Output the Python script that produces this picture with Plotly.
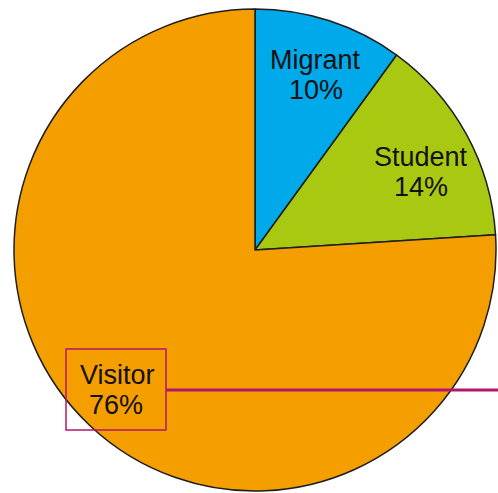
import plotly.graph_objects as go

# Share of arrivals by category
categories = ["Migrant", "Student", "Visitor"]
shares = [10, 14, 76]
colors = ["#00A9E9", "#A9C812", "#F59E00"]

W, H = 498, 493


def px(x):
    return x / W


def py(y):
    return 1 - y / H


fig = go.Figure(
    go.Pie(
        labels=categories,
        values=shares,
        sort=False,
        direction="clockwise",
        rotation=0,
        textinfo="none",
        hoverinfo="skip",
        marker=dict(colors=colors, line=dict(color="#1e1e1e", width=1.5)),
        domain=dict(x=[px(14), px(496)], y=[py(491), py(9)]),
        showlegend=False,
    )
)

# label centres (pixels): name line, percent line
label_pos = {
    "Migrant": ((315, 60), (316, 90)),
    "Student": ((421, 157), (421, 187)),
    "Visitor": ((117, 375), (116, 405)),
}

font = dict(family="Liberation Sans, Arial, sans-serif", size=27, color="#111111")
annotations = []
for name, val in zip(categories, shares):
    (nx, ny), (vx, vy) = label_pos[name]
    annotations.append(dict(x=px(nx), y=py(ny), xref="paper", yref="paper",
                            text=name, showarrow=False, font=font,
                            xanchor="center", yanchor="middle"))
    annotations.append(dict(x=px(vx), y=py(vy), xref="paper", yref="paper",
                            text=f"{val}%", showarrow=False, font=font,
                            xanchor="center", yanchor="middle"))

callout = "#B3176A"
shapes = [
    dict(type="rect", xref="paper", yref="paper",
         x0=px(66), x1=px(166), y0=py(430), y1=py(349),
         line=dict(color=callout, width=1.5), fillcolor="rgba(0,0,0,0)"),
    dict(type="line", xref="paper", yref="paper",
         x0=px(166), x1=px(498), y0=py(390), y1=py(390),
         line=dict(color=callout, width=3)),
]

fig.update_layout(
    width=W,
    height=H,
    margin=dict(l=0, r=0, t=0, b=0),
    paper_bgcolor="white",
    plot_bgcolor="white",
    annotations=annotations,
    shapes=shapes,
)

fig.write_html("out.html", config={"displayModeBar": False})
